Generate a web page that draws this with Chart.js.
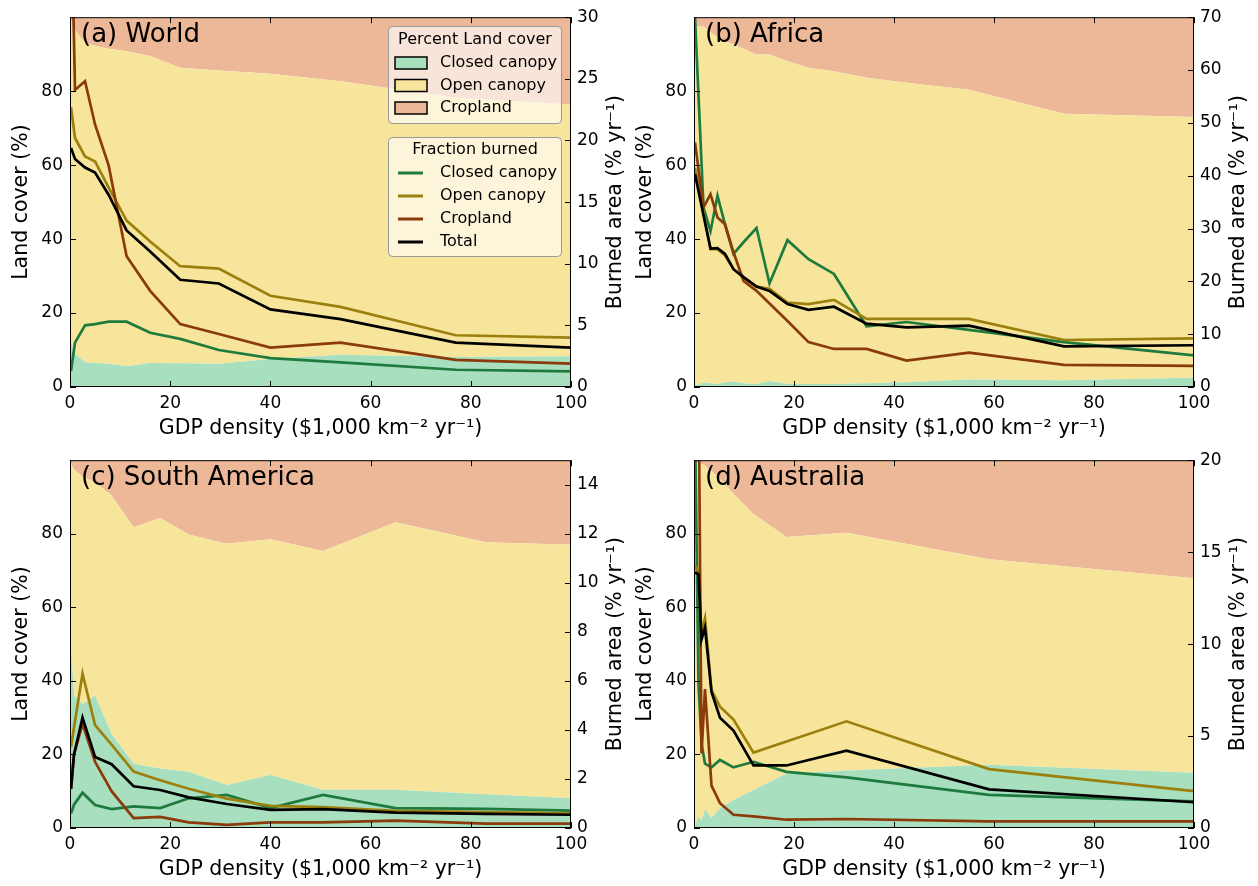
<!DOCTYPE html>
<html lang="en">
<head>
<meta charset="UTF-8">
<title>Land cover and burned area vs GDP density</title>
<script src="https://cdn.jsdelivr.net/npm/chart.js"></script>
<style>
  body { margin: 0; background: #fff; }
  #wrap { position: relative; width: 1258px; height: 886px; }
  canvas { position: absolute; }
</style>
</head>
<body>
<div id="wrap">
  <canvas id="world" width="629" height="443" style="left:0;top:0"></canvas>
  <canvas id="africa" width="629" height="443" style="left:629px;top:0"></canvas>
  <canvas id="samerica" width="629" height="443" style="left:0;top:443px"></canvas>
  <canvas id="australia" width="629" height="443" style="left:629px;top:443px"></canvas>
</div>
<script>
// ---- data ----
// x: GDP density bins ($1,000 km-2 yr-1); cover in %; burned in % yr-1

// (a) World
const worldGdp = [0.2, 1, 3, 5, 7.7, 11.3, 16, 22, 29.7, 40, 54, 77, 100];
const worldClosedCover = [12, 9, 6.7, 6.5, 6.3, 5.6, 6.5, 6.4, 6.3, 7.6, 8.7, 8.1, 8.3];
const worldOpenCover = [87, 87.5, 86.3, 85.8, 85.2, 85.2, 83, 79.9, 79.3, 77.1, 74, 70.1, 68.1];
const worldCropCover = [1, 3.5, 7, 7.7, 8.5, 9.2, 10.5, 13.7, 14.4, 15.3, 17.3, 21.8, 23.6];
const worldBurnClosed = [1.3, 3.6, 5.0, 5.1, 5.3, 5.3, 4.4, 3.9, 3.0, 2.35, 2.0, 1.4, 1.27];
const worldBurnOpen = [22.7, 20.2, 18.7, 18.3, 16.2, 13.5, 11.8, 9.8, 9.6, 7.4, 6.5, 4.2, 4.0];
const worldBurnCrop = [40, 24.1, 24.8, 21.3, 18.0, 10.6, 7.8, 5.1, 4.3, 3.2, 3.6, 2.2, 1.9];
const worldBurnTotal = [19.4, 18.5, 17.8, 17.4, 15.6, 12.7, 11.0, 8.7, 8.4, 6.3, 5.5, 3.6, 3.2];

// (b) Africa
const africaGdp = [0.2, 1.9, 3.3, 4.7, 6.2, 7.9, 9.9, 12.5, 15.1, 18.7, 22.9, 28, 34.5, 42.5, 55, 74, 100];
const africaClosedCover = [0.3, 1.2, 1.0, 0.8, 1.3, 1.5, 1.0, 0.8, 1.6, 0.8, 0.8, 0.8, 1.0, 1.3, 2.0, 1.8, 2.5];
const africaOpenCover = [97.2, 96.3, 95, 93.7, 92.2, 91.1, 90.5, 89.1, 88.3, 87.3, 85.5, 84.6, 82.6, 81, 78.4, 72.1, 70.5];
const africaCropCover = [2.5, 2.5, 4, 5.5, 6.5, 7.4, 8.5, 10.1, 10.1, 11.9, 13.7, 14.6, 16.4, 17.7, 19.6, 26.1, 27];
const africaBurnClosed = [70, 34, 29.5, 36.2, 30.8, 25.2, 27.4, 30.1, 19.6, 27.8, 24.2, 21.4, 11.5, 12.3, 10.8, 8.5, 6.0];
const africaBurnOpen = [41.5, 33, 26.1, 26.1, 24.9, 22.3, 20.8, 19.0, 18.6, 16.0, 15.7, 16.5, 12.9, 12.9, 12.9, 8.9, 9.2];
const africaBurnCrop = [46.3, 34, 36.5, 32.1, 30.8, 25.5, 20.1, 18.2, 15.8, 12.5, 8.5, 7.2, 7.2, 5.0, 6.5, 4.2, 4.0];
const africaBurnTotal = [40.3, 32.5, 26.2, 26.3, 25.2, 22.3, 20.8, 19.0, 18.2, 15.7, 14.6, 15.2, 12.0, 11.3, 11.6, 7.7, 7.9];

// (c) South America
const samGdp = [0.2, 0.8, 2.5, 5, 8.3, 12.7, 18, 23.7, 31.3, 40, 50.5, 65, 83, 100];
const samClosedCover = [50, 36, 33.7, 36, 25.6, 17.5, 16.2, 15.3, 11.7, 14.4, 10.4, 10.4, 9.2, 8.1];
const samOpenCover = [49, 61.5, 61.8, 58, 64.8, 64.3, 68.1, 64.5, 65.6, 64.1, 64.9, 72.7, 68.5, 68.9];
const samCropCover = [1, 2.5, 4.5, 6, 9.6, 18.2, 15.7, 20.2, 22.7, 21.5, 24.7, 16.9, 22.3, 23];
const samBurnClosed = [0.6, 0.95, 1.44, 0.94, 0.77, 0.88, 0.81, 1.21, 1.35, 0.81, 1.35, 0.81, 0.78, 0.71];
const samBurnOpen = [3.3, 4.1, 6.3, 4.2, 3.4, 2.3, 1.95, 1.6, 1.2, 0.9, 0.85, 0.7, 0.65, 0.6];
const samBurnCrop = [1.6, 3.0, 4.25, 2.7, 1.5, 0.4, 0.45, 0.23, 0.13, 0.23, 0.23, 0.3, 0.18, 0.18];
const samBurnTotal = [1.6, 3.0, 4.5, 2.9, 2.6, 1.7, 1.55, 1.25, 0.98, 0.74, 0.77, 0.63, 0.58, 0.54];

// (d) Australia
const ausGdp = [0.2, 0.9, 1.5, 2.2, 3.5, 5.2, 7.9, 11.9, 18.5, 30.5, 59, 100];
const ausClosedCover = [0.4, 3.1, 2.0, 5.0, 2.7, 5.4, 7.6, 10.3, 14.8, 15.6, 17.2, 15];
const ausOpenCover = [99.1, 96.2, 97, 93.5, 94.3, 89.5, 83.2, 75.1, 64.3, 64.7, 55.9, 52.9];
const ausCropCover = [0.5, 0.7, 1, 1.5, 3, 5.1, 9.2, 14.6, 20.9, 19.7, 26.9, 32.1];
const ausBurnClosed = [22, 7.8, 4.6, 3.5, 3.3, 3.7, 3.3, 3.6, 3.05, 2.75, 1.8, 1.45];
const ausBurnOpen = [14.3, 13.9, 10.6, 11.4, 7.5, 6.6, 5.9, 4.1, 4.7, 5.8, 3.2, 2.0];
const ausBurnCrop = [30, 25, 4.05, 7.55, 2.3, 1.35, 0.72, 0.63, 0.45, 0.49, 0.36, 0.36];
const ausBurnTotal = [13.9, 13.8, 10.25, 10.9, 7.4, 6.0, 5.3, 3.4, 3.4, 4.2, 2.1, 1.4];

// axis ticks
const gdpTicks = [0, 20, 40, 60, 80, 100];
const coverTicks = [0, 20, 40, 60, 80];
const worldBurnTicks = [0, 5, 10, 15, 20, 25, 30];
const africaBurnTicks = [0, 10, 20, 30, 40, 50, 60, 70];
const samBurnTicks = [0, 2, 4, 6, 8, 10, 12, 14];
const ausBurnTicks = [0, 5, 10, 15, 20];

const coverNames = ['Closed canopy', 'Open canopy', 'Cropland'];
const burnNames = ['Closed canopy', 'Open canopy', 'Cropland', 'Total'];

// colours
const coverColors = ['#a8dfbe', '#f8e59c', '#ecb898'];
const lineColors = ['#1f7a3d', '#9c800e', '#8a3a0b', '#000000'];

const FONT = 'DejaVu Sans';
Chart.defaults.font.family = FONT;
Chart.defaults.color = '#000';

function pts(xs, ys) {
    return xs.map((x, i) => ({x: x, y: ys[i]}));
}

// cumulative tops of the stacked cover bands
function stackTops(layers) {
    let run = layers[0].map(() => 0);
    return layers.map(layer => {
        run = run.map((v, i) => v + layer[i]);
        return run.slice();
    });
}

function roundBox(ctx, x, y, w, h, r) {
    ctx.beginPath();
    ctx.moveTo(x + r, y);
    ctx.lineTo(x + w - r, y);
    ctx.quadraticCurveTo(x + w, y, x + w, y + r);
    ctx.lineTo(x + w, y + h - r);
    ctx.quadraticCurveTo(x + w, y + h, x + w - r, y + h);
    ctx.lineTo(x + r, y + h);
    ctx.quadraticCurveTo(x, y + h, x, y + h - r);
    ctx.lineTo(x, y + r);
    ctx.quadraticCurveTo(x, y, x + r, y);
    ctx.closePath();
}

function drawLegend(ctx) {
    ctx.save();
    ctx.font = '16px ' + FONT;
    ctx.textBaseline = 'middle';

    // land cover box
    roundBox(ctx, 388.5, 26.5, 173, 97, 4);
    ctx.fillStyle = 'rgba(255,255,255,0.62)';
    ctx.fill();
    ctx.strokeStyle = '#9a9a9a';
    ctx.lineWidth = 1;
    ctx.stroke();
    ctx.fillStyle = '#000';
    ctx.textAlign = 'center';
    ctx.fillText('Percent Land cover', 475, 40);
    ctx.textAlign = 'left';
    coverNames.forEach((name, i) => {
        const y = 63 + i * 22.5;
        ctx.fillStyle = coverColors[i];
        ctx.fillRect(395, y - 6, 32, 12);
        ctx.strokeStyle = '#000';
        ctx.lineWidth = 1.5;
        ctx.strokeRect(395, y - 6, 32, 12);
        ctx.fillStyle = '#000';
        ctx.fillText(name, 440, y);
    });

    // burned fraction box
    roundBox(ctx, 388.5, 137.5, 173, 119, 4);
    ctx.fillStyle = 'rgba(255,255,255,0.62)';
    ctx.fill();
    ctx.strokeStyle = '#9a9a9a';
    ctx.lineWidth = 1;
    ctx.stroke();
    ctx.fillStyle = '#000';
    ctx.textAlign = 'center';
    ctx.fillText('Fraction burned', 475, 150);
    ctx.textAlign = 'left';
    burnNames.forEach((name, i) => {
        const y = 173 + i * 23;
        ctx.strokeStyle = lineColors[i];
        ctx.lineWidth = 3;
        ctx.beginPath();
        ctx.moveTo(398, y);
        ctx.lineTo(423, y);
        ctx.stroke();
        ctx.fillStyle = '#000';
        ctx.fillText(name, 440, y);
    });
    ctx.restore();
}

// frame, inward ticks, axis titles and panel label
const decorations = {
    id: 'decorations',
    afterDraw(chart) {
        const {ctx, chartArea: a, scales} = chart;
        const opts = chart.options.plugins.decorations;
        ctx.save();
        ctx.strokeStyle = '#000';
        ctx.lineWidth = 1;
        ctx.strokeRect(a.left + 0.5, a.top + 0.5, a.width - 1, a.height - 1);

        ctx.beginPath();
        scales.x.ticks.forEach(t => {
            const px = Math.round(scales.x.getPixelForValue(t.value)) + 0.5;
            ctx.moveTo(px, a.bottom); ctx.lineTo(px, a.bottom - 6);
            ctx.moveTo(px, a.top); ctx.lineTo(px, a.top + 6);
        });
        scales.y.ticks.forEach(t => {
            const py = Math.round(scales.y.getPixelForValue(t.value)) + 0.5;
            ctx.moveTo(a.left, py); ctx.lineTo(a.left + 6, py);
        });
        scales.y2.ticks.forEach(t => {
            const py = Math.round(scales.y2.getPixelForValue(t.value)) + 0.5;
            ctx.moveTo(a.right, py); ctx.lineTo(a.right - 6, py);
        });
        ctx.stroke();

        ctx.fillStyle = '#000';
        ctx.textAlign = 'center';
        ctx.textBaseline = 'middle';
        ctx.font = '20.5px ' + FONT;
        const midX = (a.left + a.right) / 2;
        const midY = (a.top + a.bottom) / 2;
        ctx.fillText('GDP density ($1,000 km\u207B\u00B2 yr\u207B\u00B9)', midX, a.bottom + 42);

        ctx.save();
        ctx.translate(a.left - 48, midY);
        ctx.rotate(-Math.PI / 2);
        ctx.fillText('Land cover (%)', 0, 0);
        ctx.restore();

        ctx.save();
        ctx.translate(a.right + 45, midY);
        ctx.rotate(-Math.PI / 2);
        ctx.fillText('Burned area (% yr\u207B\u00B9)', 0, 0);
        ctx.restore();

        ctx.textAlign = 'left';
        ctx.font = '26px ' + FONT;
        ctx.fillText(opts.label, a.left + 11, a.top + 18);
        ctx.restore();

        if (opts.legend) drawLegend(ctx);
    }
};

function makePanel(id, p) {
    const tops = stackTops([p.closedCover, p.openCover, p.cropCover]);
    const burn = [p.burnClosed, p.burnOpen, p.burnCrop, p.burnTotal];
    const datasets = [];
    tops.forEach((top, i) => {
        datasets.push({
            data: pts(p.gdp, top),
            yAxisID: 'y',
            borderWidth: 0,
            pointRadius: 0,
            backgroundColor: coverColors[i],
            fill: i === 0 ? 'origin' : '-1',
            order: 10 + i
        });
    });
    burn.forEach((vals, i) => {
        datasets.push({
            data: pts(p.gdp, vals),
            yAxisID: 'y2',
            borderColor: lineColors[i],
            borderWidth: 2.7,
            pointRadius: 0,
            fill: false,
            order: 3 - i
        });
    });

    const m = p.margins;
    new Chart(document.getElementById(id), {
        type: 'line',
        data: {datasets: datasets},
        plugins: [decorations],
        options: {
            responsive: false,
            animation: false,
            devicePixelRatio: 1,
            layout: {padding: {top: m.top, left: 0, right: 0, bottom: 0}},
            plugins: {
                legend: {display: false},
                tooltip: {enabled: false},
                decorations: {label: p.label, legend: p.legend}
            },
            scales: {
                x: {
                    type: 'linear',
                    min: 0, max: 100,
                    grid: {display: false, drawTicks: false},
                    border: {display: false},
                    afterBuildTicks: s => { s.ticks = gdpTicks.map(v => ({value: v})); },
                    afterFit: s => { s.height = m.bottom; },
                    ticks: {padding: 6, font: {size: 17}, maxRotation: 0}
                },
                y: {
                    position: 'left',
                    min: 0, max: 100,
                    grid: {display: false, drawTicks: false},
                    border: {display: false},
                    afterBuildTicks: s => { s.ticks = coverTicks.map(v => ({value: v})); },
                    afterFit: s => { s.width = m.left; },
                    ticks: {padding: 7, font: {size: 17}}
                },
                y2: {
                    position: 'right',
                    min: 0, max: p.burnMax,
                    grid: {display: false, drawTicks: false},
                    border: {display: false},
                    afterBuildTicks: s => { s.ticks = p.burnTicks.map(v => ({value: v})); },
                    afterFit: s => { s.width = m.right; },
                    ticks: {padding: 6, font: {size: 17}}
                }
            }
        }
    });
}

makePanel('world', {
    label: '(a) World', legend: true,
    gdp: worldGdp, closedCover: worldClosedCover, openCover: worldOpenCover, cropCover: worldCropCover,
    burnClosed: worldBurnClosed, burnOpen: worldBurnOpen, burnCrop: worldBurnCrop, burnTotal: worldBurnTotal,
    burnMax: 30, burnTicks: worldBurnTicks,
    margins: {left: 70, right: 58, top: 16, bottom: 56}
});
makePanel('africa', {
    label: '(b) Africa', legend: false,
    gdp: africaGdp, closedCover: africaClosedCover, openCover: africaOpenCover, cropCover: africaCropCover,
    burnClosed: africaBurnClosed, burnOpen: africaBurnOpen, burnCrop: africaBurnCrop, burnTotal: africaBurnTotal,
    burnMax: 70, burnTicks: africaBurnTicks,
    margins: {left: 65, right: 64, top: 16, bottom: 56}
});
makePanel('samerica', {
    label: '(c) South America', legend: false,
    gdp: samGdp, closedCover: samClosedCover, openCover: samOpenCover, cropCover: samCropCover,
    burnClosed: samBurnClosed, burnOpen: samBurnOpen, burnCrop: samBurnCrop, burnTotal: samBurnTotal,
    burnMax: 15, burnTicks: samBurnTicks,
    margins: {left: 70, right: 58, top: 15, bottom: 58}
});
makePanel('australia', {
    label: '(d) Australia', legend: false,
    gdp: ausGdp, closedCover: ausClosedCover, openCover: ausOpenCover, cropCover: ausCropCover,
    burnClosed: ausBurnClosed, burnOpen: ausBurnOpen, burnCrop: ausBurnCrop, burnTotal: ausBurnTotal,
    burnMax: 20, burnTicks: ausBurnTicks,
    margins: {left: 65, right: 64, top: 15, bottom: 58}
});
</script>
</body>
</html>
